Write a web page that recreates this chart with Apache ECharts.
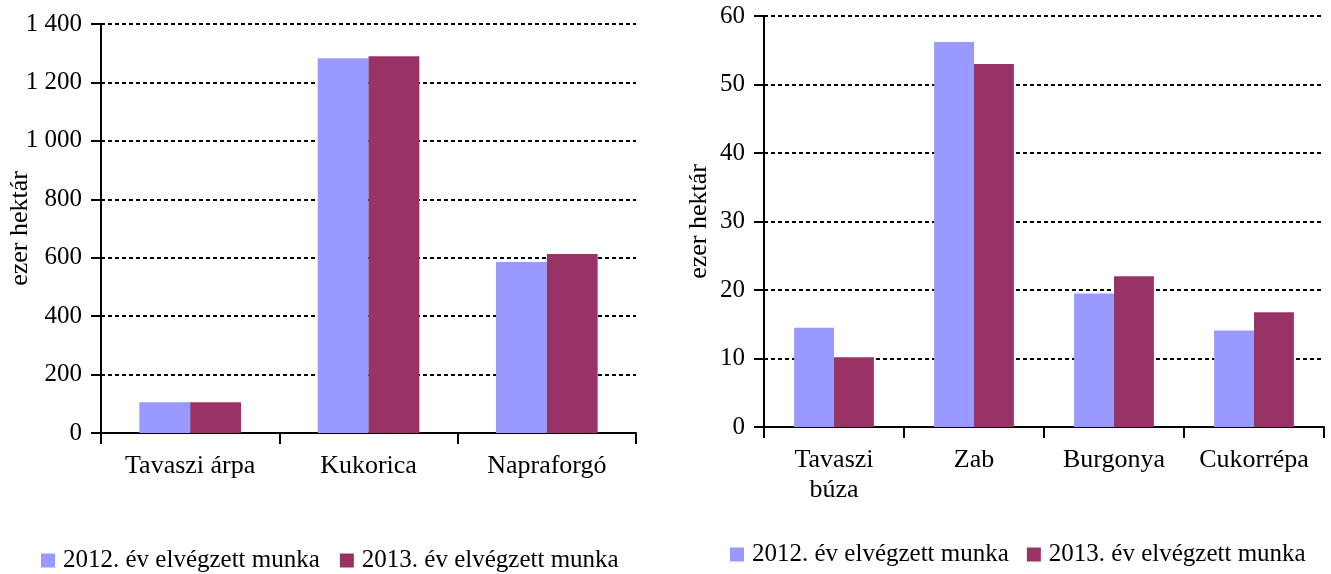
<!DOCTYPE html>
<html>
<head>
<meta charset="utf-8">
<script src="https://cdn.jsdelivr.net/npm/echarts@6/dist/echarts.min.js"></script>
<style>
html,body{margin:0;padding:0;background:#fff;}
#c{width:1331px;height:574px;}
</style>
</head>
<body>
<div id="c"></div>
<script>
// Left chart
const leftCategories = ['Tavaszi árpa', 'Kukorica', 'Napraforgó'];
const left2012 = [105, 1283, 585];
const left2013 = [105, 1290, 613];
// Right chart
const rightCategories = ['Tavaszi búza', 'Zab', 'Burgonya', 'Cukorrépa'];
const right2012 = [14.5, 56.2, 19.5, 14.1];
const right2013 = [10.2, 53.0, 22.0, 16.75];
const seriesNames = ['2012. év elvégzett munka', '2013. év elvégzett munka'];
const yAxisName = 'ezer hektár';

const FONT = '"Liberation Serif", "Times New Roman", serif';
const C2012 = '#9999FF';
const C2013 = '#993366';

function yAxis(gridIndex, max, interval, nameGap, fmt) {
  return {
    type: 'value', gridIndex, min: 0, max, interval,
    name: yAxisName, nameLocation: 'middle', nameGap, nameMoveOverlap: false,
    nameTextStyle: {fontFamily: FONT, fontSize: 26, color: '#000'},
    axisLine: {show: true, lineStyle: {color: '#000', width: 2}},
    axisTick: {show: true, length: 10, lineStyle: {color: '#000', width: 2}},
    axisLabel: {fontFamily: FONT, fontSize: 25, color: '#000', margin: 19, formatter: fmt},
    splitLine: {show: true, lineStyle: {color: '#000', width: 2, type: [4, 3]}}
  };
}
function xAxis(gridIndex, data, fmt) {
  return {
    type: 'category', gridIndex, data,
    axisLine: {show: true, lineStyle: {color: '#000', width: 2}},
    axisTick: {show: true, length: 11, lineStyle: {color: '#000', width: 2}},
    axisLabel: {fontFamily: FONT, fontSize: 26, color: '#000', margin: 18, lineHeight: 30, formatter: fmt, interval: 0}
  };
}
function bar(name, data, color, xi) {
  return {
    name, type: 'bar', data, xAxisIndex: xi, yAxisIndex: xi,
    itemStyle: {color}, barGap: '0%', barCategoryGap: '43%'
  };
}
const legendCommon = {
  icon: 'rect', itemWidth: 14, itemHeight: 14,
  textStyle: {fontFamily: FONT, fontSize: 25, color: '#000', padding: [0,0,0,3]},
  data: seriesNames
};

const chart = echarts.init(document.getElementById('c'), null, {renderer: 'canvas'});
chart.setOption({
  backgroundColor: '#fff',
  animation: false,
  grid: [
    {left: 101, top: 24, width: 535, height: 409, containLabel: false, outerBoundsMode: 'none'},
    {left: 764, top: 16, width: 560, height: 411, containLabel: false, outerBoundsMode: 'none'}
  ],
  xAxis: [
    xAxis(0, leftCategories),
    xAxis(1, rightCategories, v => v.replace(' ', '\n'))
  ],
  yAxis: [
    yAxis(0, 1400, 200, 68, v => String(v).replace(/\B(?=(\d{3})+(?!\d))/g, ' ')),
    yAxis(1, 60, 10, 52)
  ],
  legend: [
    Object.assign({}, legendCommon, {left: 36, top: 543, itemGap: 20}),
    Object.assign({}, legendCommon, {left: 725, top: 537, itemGap: 18})
  ],
  series: [
    bar(seriesNames[0], left2012, C2012, 0),
    bar(seriesNames[1], left2013, C2013, 0),
    bar(seriesNames[0], right2012, C2012, 1),
    bar(seriesNames[1], right2013, C2013, 1)
  ]
});
</script>
</body>
</html>
